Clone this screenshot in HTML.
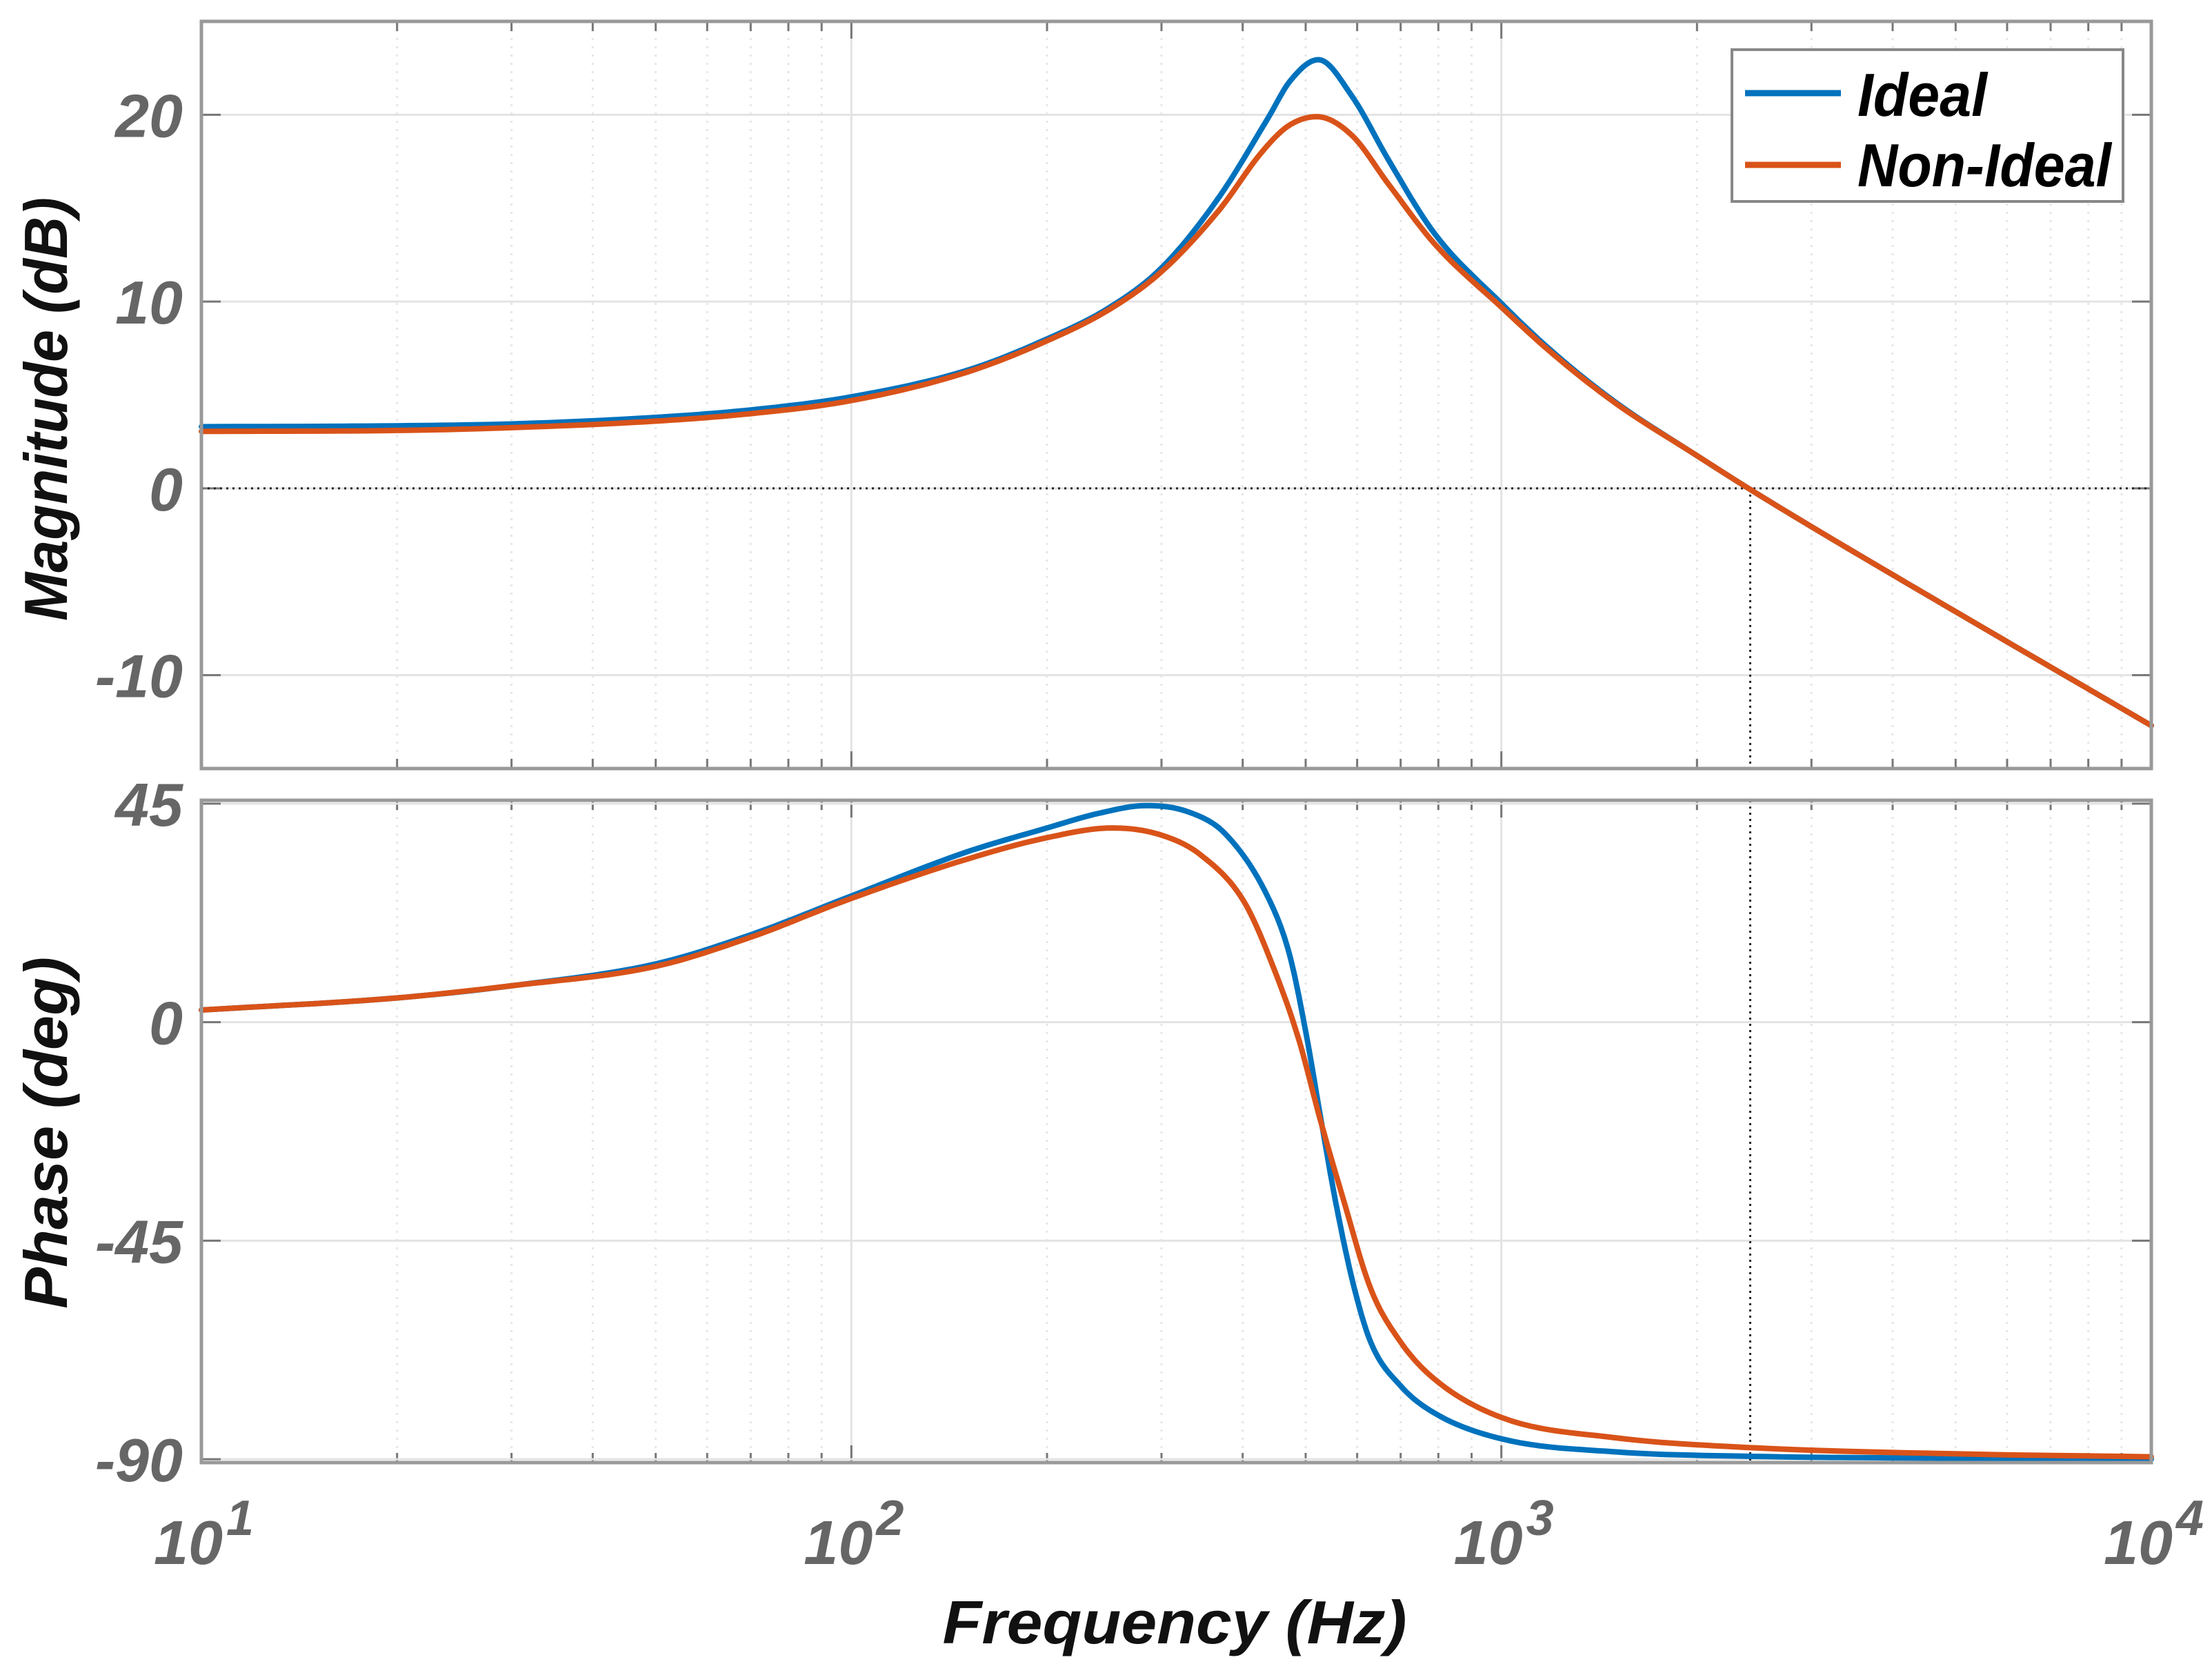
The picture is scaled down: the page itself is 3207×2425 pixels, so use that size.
<!DOCTYPE html>
<html><head><meta charset="utf-8"><style>
html,body{margin:0;padding:0;background:#fff;}
svg{display:block;}
text{font-family:"Liberation Sans",Arial,sans-serif;font-weight:bold;font-style:italic;}
</style></head><body>
<svg id="chart" width="3207" height="2425" viewBox="0 0 3207 2425" xmlns="http://www.w3.org/2000/svg"></svg>
<script>
// ---- data ----
const freqIdealMag = [10,20,30,50,70,100,150,200,250,300,368,438,473,523,589,670,789,1000,1200,1500,2000,2400,3000,5000,10000];
const magIdeal =     [3.3,3.35,3.45,3.8,4.2,4.9,6.3,8,9.7,11.8,15.6,19.85,21.8,22.95,21.0,17.6,13.65,9.9,7.3,4.6,1.75,0,-2.05,-6.6,-12.7];
const freqNonMag =   [10,20,30,50,70,100,150,200,250,300,368,428,470,520,589,670,789,1000,1200,1500,2000,2400,3000,5000,10000];
const magNon =       [3.05,3.1,3.25,3.6,4.0,4.7,6.2,7.9,9.6,11.6,14.9,18.0,19.4,19.9,18.9,16.3,13.1,9.7,7.2,4.55,1.75,0,-2.05,-6.6,-12.7];
const freqPhase =    [10,20,30,50,70,100,150,200,240,284,330,376,438,472,500,527,556,592,630,701,789,1000,1500,2400,5000,10000];
const phaseIdeal =   [2.5,5,7.5,12,18,26,35,40,43,44.6,43.3,38.8,25.6,14,-1.9,-19.5,-37,-54,-66,-75,-80.5,-85.8,-88.5,-89.4,-89.8,-90];
const freqPhaseNon = [10,20,30,50,70,100,150,200,252,302,345,402,448,488,527,570,630,701,789,1000,1500,2400,5000,10000];
const phaseNon =     [2.5,5,7.5,11.5,17.5,25.5,33.5,38,40,38.4,34.4,24.8,10.6,-3.6,-20.3,-36,-55,-66,-73.5,-81.4,-85.6,-87.6,-88.9,-89.5];
const magTicks = [20,10,0,-10];
const phaseTicks = [45,0,-45,-90];
const xTickExp = [1,2,3,4];
const crossoverFreq = 2415;

// ---- layout ----
const L=292, R=3119;
const top1=31, bot1=1114, top2=1160, bot2=2120;
const dbMax=25, dbMin=-15, phMax=45.7, phMin=-90.7;
const svg=document.getElementById('chart');
const NS='http://www.w3.org/2000/svg';
function xs(f){return L+(Math.log10(f)-1)/3*(R-L);}
function ym(v){return top1+(dbMax-v)/(dbMax-dbMin)*(bot1-top1);}
function yp(v){return top2+(phMax-v)/(phMax-phMin)*(bot2-top2);}
function mk(tag,attrs,parent){const e=document.createElementNS(NS,tag);for(const k in attrs)e.setAttribute(k,attrs[k]);(parent||svg).appendChild(e);return e;}

function panel(top,bot,yf,ticks,name){
  const g=mk('g',{});
  
  
  for(let d=1;d<4;d++){for(let m=2;m<10;m++){const x=xs(m*Math.pow(10,d));
    mk('line',{x1:x,x2:x,y1:top,y2:bot,stroke:'#e6e6e6','stroke-width':3,'stroke-dasharray':'3 9'},g);
    mk('line',{x1:x,x2:x,y1:top,y2:top+14,stroke:'#777','stroke-width':3},g);
    mk('line',{x1:x,x2:x,y1:bot,y2:bot-14,stroke:'#777','stroke-width':3},g);}}
  xTickExp.forEach(e=>{const x=xs(Math.pow(10,e));
    mk('line',{x1:x,x2:x,y1:top,y2:bot,stroke:'#e3e3e3','stroke-width':3},g);
    mk('line',{x1:x,x2:x,y1:top,y2:top+25,stroke:'#777','stroke-width':3},g);
    mk('line',{x1:x,x2:x,y1:bot,y2:bot-25,stroke:'#777','stroke-width':3},g);});
  ticks.forEach(v=>{const y=yf(v);
    mk('line',{x1:L,x2:R,y1:y,y2:y,stroke:'#e3e3e3','stroke-width':3},g);
    mk('line',{x1:L,x2:L+28,y1:y,y2:y,stroke:'#777','stroke-width':3},g);
    mk('line',{x1:R,x2:R-28,y1:y,y2:y,stroke:'#777','stroke-width':3},g);
    const t=mk('text',{x:265,y:y+32,'text-anchor':'end','font-size':88,fill:'#666'},g);
    t.textContent=v;
    
    });
  return g;
}
panel(top1,bot1,ym,magTicks,'magnitude');
panel(top2,bot2,yp,phaseTicks,'phase');

const zl=mk('line',{x1:L,x2:R,y1:ym(0),y2:ym(0),stroke:'#222','stroke-width':3,'stroke-dasharray':'3 6'});


const cx=xs(crossoverFreq);
const cl1=mk('line',{x1:cx,x2:cx,y1:ym(0),y2:bot1,stroke:'#222','stroke-width':3,'stroke-dasharray':'3 6'});


const cl2=mk('line',{x1:cx,x2:cx,y1:top2,y2:bot2,stroke:'#222','stroke-width':3,'stroke-dasharray':'3 6'});



function smooth(fr,vals){
  const xsL=fr.map(f=>Math.log10(f)), n=xsL.length;
  const dl=[],m=[];
  for(let i=0;i<n-1;i++)dl.push((vals[i+1]-vals[i])/(xsL[i+1]-xsL[i]));
  m[0]=dl[0];m[n-1]=dl[n-2];
  for(let i=1;i<n-1;i++){m[i]=(dl[i-1]*dl[i]<=0)?0:(dl[i-1]+dl[i])/2;}
  for(let i=0;i<n-1;i++){if(dl[i]===0){m[i]=0;m[i+1]=0;continue;}
    const a=m[i]/dl[i],b=m[i+1]/dl[i],s=a*a+b*b;
    if(s>9){const t=3/Math.sqrt(s);m[i]=t*a*dl[i];m[i+1]=t*b*dl[i];}}
  const out=[];
  for(let i=0;i<n-1;i++){const h=xsL[i+1]-xsL[i];
    for(let k=0;k<12;k++){const t=k/12,t2=t*t,t3=t2*t;
      const v=(2*t3-3*t2+1)*vals[i]+(t3-2*t2+t)*h*m[i]+(-2*t3+3*t2)*vals[i+1]+(t3-t2)*h*m[i+1];
      out.push([Math.pow(10,xsL[i]+t*h),v]);}}
  out.push([fr[n-1],vals[n-1]]);
  return out;
}
function curve(fr,vals,yf,color,name){
  const pts=smooth(fr,vals);
  let d='';
  pts.forEach((p,i)=>{d+=(i?'L':'M')+xs(p[0]).toFixed(1)+','+yf(p[1]).toFixed(1);});
  const p=mk('path',{d:d,fill:'none',stroke:color,'stroke-width':8,'stroke-linejoin':'round','stroke-linecap':'round'});
  
  
}
curve(freqIdealMag,magIdeal,ym,'#0072BD','magnitude-ideal-line');
curve(freqNonMag,magNon,ym,'#D95319','magnitude-non-ideal-line');
curve(freqPhase,phaseIdeal,yp,'#0072BD','phase-ideal-line');
curve(freqPhaseNon,phaseNon,yp,'#D95319','phase-non-ideal-line');

[[top1,bot1,'magnitude-frame'],[top2,bot2,'phase-frame']].forEach(a=>{
  const r=mk('rect',{x:L,y:a[0],width:R-L,height:a[1]-a[0],fill:'none',stroke:'#999','stroke-width':5});
  
  });

xTickExp.forEach(e=>{const x=xs(Math.pow(10,e));
  const t=mk('text',{x:x-19,y:2267,'text-anchor':'middle','font-size':90,fill:'#666'});
  t.textContent='10';
  
  
  const s=mk('text',{x:x+36,y:2225,'font-size':72,fill:'#666'});
  s.textContent=e;
  
  });

const xt=mk('text',{x:1703,y:2382,'text-anchor':'middle','font-size':88,fill:'#111',textLength:673,lengthAdjust:'spacingAndGlyphs'});
xt.textContent='Frequency  (Hz)';


const y1=mk('text',{x:0,y:0,'text-anchor':'middle','font-size':88,fill:'#111',textLength:614,lengthAdjust:'spacingAndGlyphs',transform:'translate(97,593) rotate(-90)'});
y1.textContent='Magnitude (dB)';


const y2=mk('text',{x:0,y:0,'text-anchor':'middle','font-size':88,fill:'#111',textLength:510,lengthAdjust:'spacingAndGlyphs',transform:'translate(97,1642) rotate(-90)'});
y2.textContent='Phase (deg)';



const lg=mk('g',{});


mk('rect',{x:2511,y:72,width:567,height:220,fill:'#fff',stroke:'#888','stroke-width':4},lg);
[['Ideal','#0072BD',135,168,188],['Non-Ideal','#D95319',239,270,368]].forEach(en=>{
  const l=mk('line',{x1:2530,x2:2669,y1:en[2],y2:en[2],stroke:en[1],'stroke-width':9},lg);
  
  
  const t=mk('text',{x:2693,y:en[3],'font-size':88,fill:'#000',textLength:en[4],lengthAdjust:'spacingAndGlyphs'},lg);
  t.textContent=en[0];
  
  });
</script>
</body></html>
